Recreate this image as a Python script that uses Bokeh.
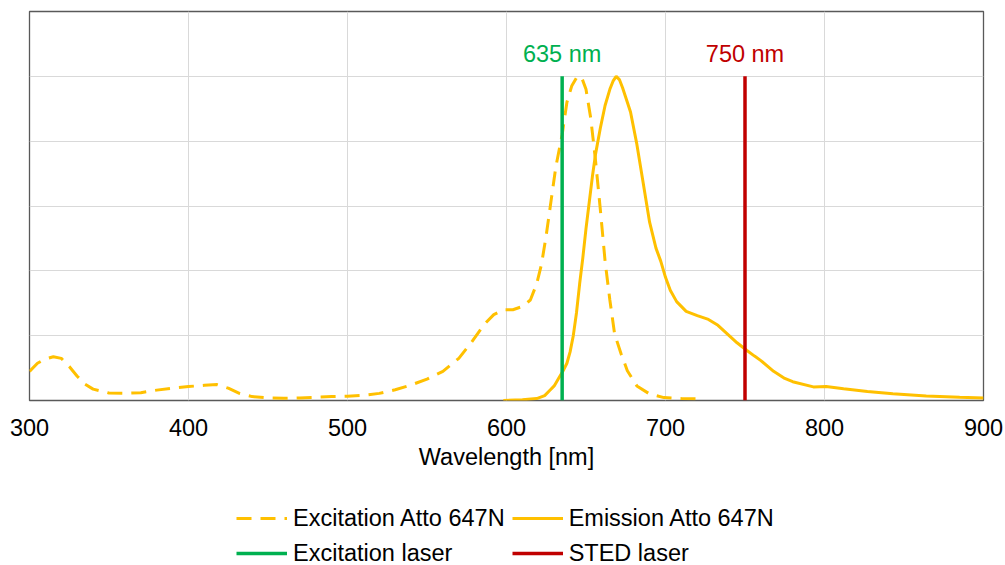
from bokeh.plotting import figure
from bokeh.layouts import column
from bokeh.models import Range1d, Legend, LegendItem, ColumnDataSource
from bokeh.core.properties import value
from bokeh.embed import file_html
from bokeh.resources import INLINE

# ---- data ----
exc_wl = [300, 305, 310, 315, 320, 325, 330, 335, 340, 350, 360, 370, 380, 390, 400, 410,
          418, 425, 432, 440, 450, 460, 470, 480, 490, 500, 510, 520, 530, 540, 550, 560,
          570, 578, 586, 592, 598, 604, 610, 615, 619, 622, 625, 628, 631, 635, 638, 641,
          644, 647, 650, 653, 656, 659, 662, 665, 668, 672, 676, 682, 690, 699, 710, 722]
exc_val = [0.09, 0.115, 0.128, 0.135, 0.13, 0.105, 0.075, 0.05, 0.035, 0.023, 0.022, 0.024,
           0.032, 0.038, 0.043, 0.047, 0.049, 0.038, 0.022, 0.012, 0.008, 0.007, 0.008, 0.01,
           0.012, 0.013, 0.016, 0.022, 0.033, 0.048, 0.066, 0.09, 0.13, 0.18, 0.235, 0.265,
           0.28, 0.28, 0.29, 0.31, 0.36, 0.42, 0.51, 0.615, 0.72, 0.82, 0.92, 0.97, 0.995,
           1.0, 0.96, 0.87, 0.74, 0.59, 0.43, 0.31, 0.205, 0.145, 0.092, 0.045, 0.02, 0.009,
           0.006, 0.005]

em_wl = [598, 610, 619, 624, 627, 630, 633, 636, 638, 640, 642, 644, 646, 648, 650, 652, 654,
         656, 659, 662, 665, 667, 669, 671, 673, 676, 678, 682, 686, 690, 694, 697, 700, 703,
         707, 713, 720, 727, 733, 739, 745, 751, 756, 760, 768, 775, 780, 793, 801, 812, 827,
         843, 864, 885, 900]
em_val = [0.0, 0.002, 0.006, 0.015, 0.03, 0.045, 0.07, 0.095, 0.115, 0.15, 0.2, 0.27, 0.36,
          0.44, 0.53, 0.61, 0.69, 0.76, 0.84, 0.91, 0.96, 0.985, 1.0, 0.99, 0.965, 0.92, 0.89,
          0.79, 0.67, 0.55, 0.47, 0.43, 0.38, 0.34, 0.305, 0.275, 0.262, 0.25, 0.232, 0.205,
          0.178, 0.155, 0.137, 0.123, 0.09, 0.068, 0.058, 0.042, 0.043, 0.036, 0.028, 0.021,
          0.014, 0.01, 0.008]

laser_wl = [635, 750]
laser_labels = ["635 nm", "750 nm"]
laser_colors = ["#00B050", "#C00000"]
laser_height = 1.0

series_labels = ["Excitation Atto 647N", "Emission Atto 647N", "Excitation laser", "STED laser"]

x_ticks = [300, 400, 500, 600, 700, 800, 900]
y_ticks = [0.0, 0.2, 0.4, 0.6, 0.8, 1.0, 1.2]

FONT = "Liberation Sans"
FS = "23.5px"
YELLOW = "#FFC000"
DASH = "15 9"


def draw_series(fig):
    """Draw the four series into a figure; returns the renderers."""
    r1 = fig.line(exc_wl, exc_val, line_color=YELLOW, line_width=3, line_dash=DASH)
    r2 = fig.line(em_wl, em_val, line_color=YELLOW, line_width=3)
    rl = [fig.line([wl, wl], [0, laser_height], line_color=col, line_width=3.5)
          for wl, col in zip(laser_wl, laser_colors)]
    return [r1, r2] + rl


p = figure(width=1005, height=478, output_backend="svg", toolbar_location=None,
           x_range=Range1d(300, 900), y_range=Range1d(0, 1.2),
           min_border_left=29, min_border_right=22, min_border_top=11, min_border_bottom=78)
p.outline_line_color = "#595959"
p.outline_line_width = 1.3

p.xaxis.ticker = x_ticks
p.yaxis.ticker = y_ticks
p.yaxis.visible = False
p.xaxis.axis_line_color = None
p.xaxis.major_tick_line_color = None
p.xaxis.minor_tick_line_color = None
p.xaxis.major_label_text_font = FONT
p.xaxis.major_label_text_font_size = FS
p.xaxis.major_label_text_color = "#000000"
p.xaxis.major_label_standoff = 12
p.xaxis.axis_label = "Wavelength [nm]"
p.xaxis.axis_label_text_font = FONT
p.xaxis.axis_label_text_font_size = FS
p.xaxis.axis_label_text_font_style = "normal"
p.xaxis.axis_label_text_color = "#000000"
p.xaxis.axis_label_standoff = 5

p.xgrid.grid_line_color = "#d9d9d9"
p.ygrid.grid_line_color = "#d9d9d9"

draw_series(p)

src = ColumnDataSource(dict(x=laser_wl, y=[1.068] * 2, t=laser_labels, c=laser_colors))
p.text(x="x", y="y", text="t", text_color="c", source=src, text_font=value(FONT),
       text_font_size=FS, text_align="center", text_baseline="middle")

# ---- legend strip below the chart (its series lie outside its visible range) ----
lg = figure(width=1005, height=87, output_backend="svg", toolbar_location=None,
            x_range=Range1d(300, 900), y_range=Range1d(5, 6),
            min_border_left=0, min_border_right=0, min_border_top=0, min_border_bottom=0)
lg.axis.visible = False
lg.grid.visible = False
lg.outline_line_color = None

rs = draw_series(lg)

legend = Legend(items=[LegendItem(label=lab, renderers=[r]) for lab, r in zip(series_labels, rs)],
                orientation="horizontal", nrows=2, location=(207, -2))
legend.label_text_font = FONT
legend.label_text_font_size = FS
legend.label_text_color = "#000000"
legend.glyph_width = 51
legend.glyph_height = 28
legend.label_height = 28
legend.label_standoff = 6
legend.spacing = 7
legend.padding = 0
legend.margin = 0
legend.border_line_color = None
legend.background_fill_alpha = 0
lg.add_layout(legend, "center")

layout = column(p, lg, spacing=0)
open("out.html", "w").write(file_html(layout, INLINE))
